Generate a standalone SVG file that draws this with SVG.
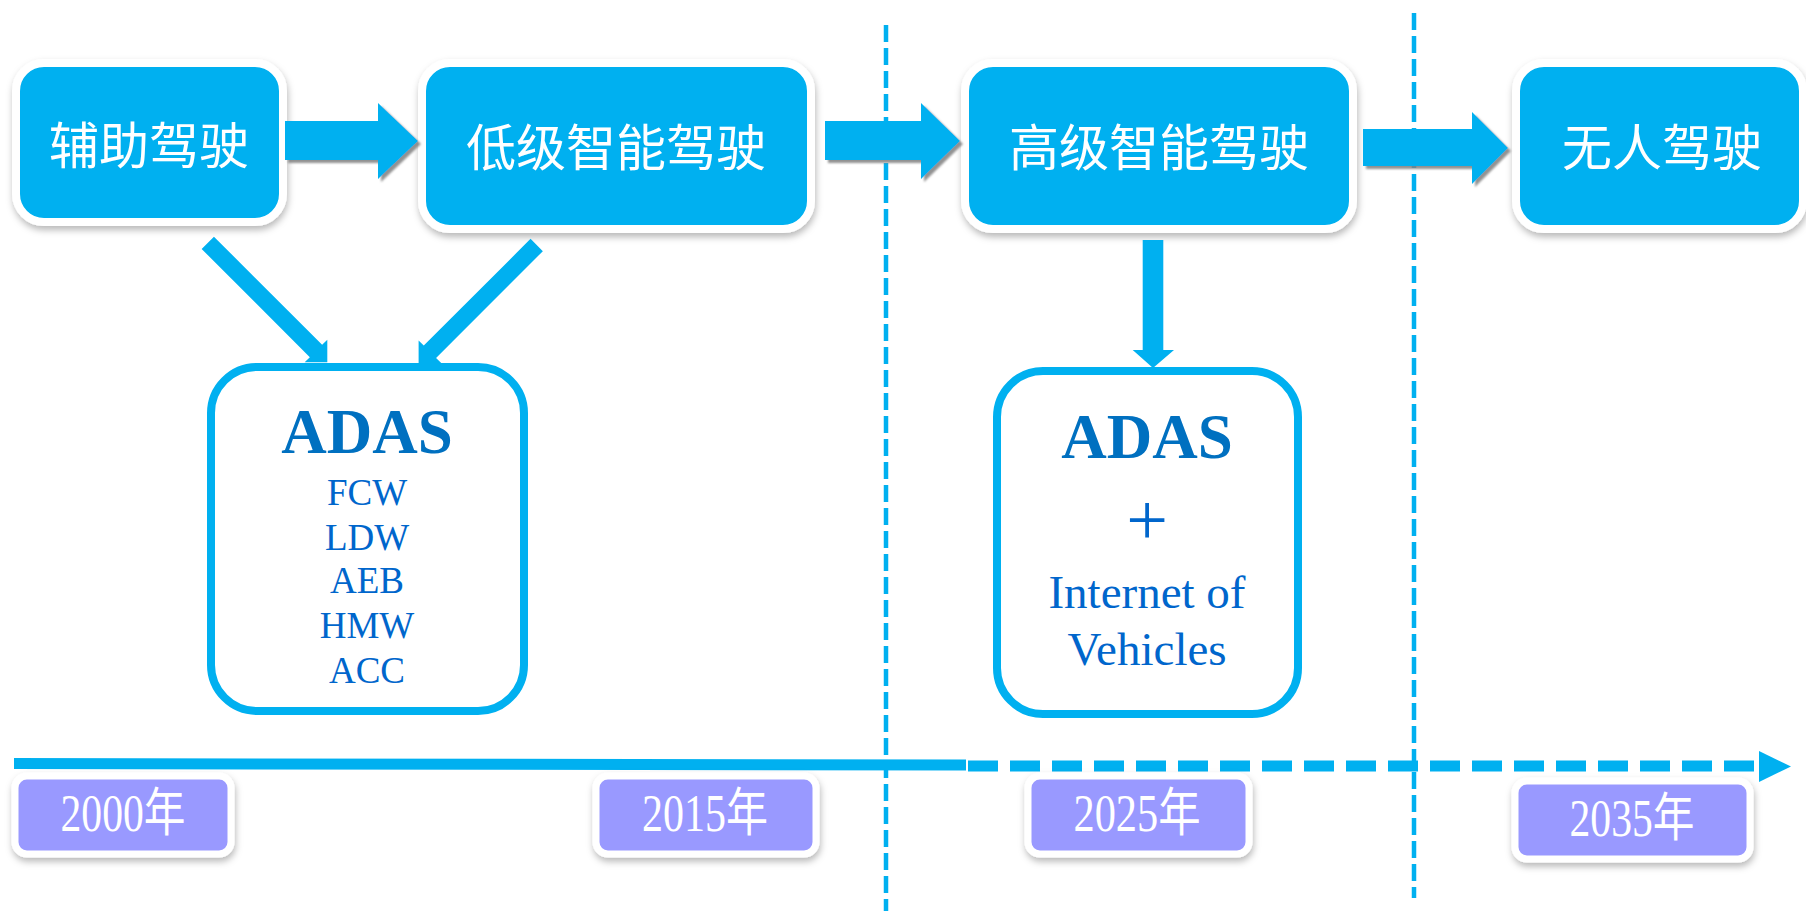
<svg xmlns="http://www.w3.org/2000/svg" width="1806" height="911" viewBox="0 0 1806 911">
  <defs>
    <filter id="boxShadow" x="-10%" y="-10%" width="120%" height="130%">
      <feDropShadow dx="1" dy="4" stdDeviation="3.5" flood-color="#000" flood-opacity="0.28"/>
    </filter>
    <filter id="arrowShadow" x="-10%" y="-10%" width="125%" height="130%">
      <feDropShadow dx="3" dy="3" stdDeviation="0.8" flood-color="#7f7f7f" flood-opacity="0.85"/>
    </filter>
    <style>
      .stage { fill: #00B0F0; stroke: #FFFFFF; stroke-width: 8; filter: url(#boxShadow); }
      .stage-label { fill: #FFFFFF; font-family: "Noto Sans CJK SC", sans-serif; font-size: 50px; text-anchor: middle; }
      .detail { fill: #FFFFFF; stroke: #00B0F0; stroke-width: 8; }
      .adas { fill: #0070C0; font-family: "Liberation Serif", "Times New Roman", serif; font-weight: bold; font-size: 63px; text-anchor: middle; }
      .item { fill: #0066CC; font-family: "Liberation Serif", "Times New Roman", serif; font-size: 37px; text-anchor: middle; }
      .item-lg { fill: #0066CC; font-family: "Liberation Serif", "Times New Roman", serif; font-size: 47px; text-anchor: middle; }
      .plus { fill: #0066CC; font-family: "Liberation Serif", "Times New Roman", serif; font-size: 74px; text-anchor: middle; }
      .year { fill: #9999FF; stroke: #FFFFFF; stroke-width: 7; filter: url(#boxShadow); }
      .year-label { fill: #FFFFFF; font-family: "Liberation Serif", "Noto Sans CJK SC", serif; font-size: 52px; text-anchor: middle; }
      .flow { fill: #00B0F0; }
      .flow-h { fill: #00B0F0; filter: url(#arrowShadow); }
      .divider { fill: none; stroke: #00B0F0; stroke-width: 4.5; stroke-dasharray: 17 6; }
      .axis { fill: none; stroke: #00B0F0; stroke-width: 11; }
    </style>
  </defs>

  <rect width="1806" height="911" fill="#FFFFFF"/>

  <!-- period dividers -->
  <g id="dividers">
    <line class="divider" x1="886" y1="25" x2="886" y2="911"/>
    <line class="divider" x1="1414" y1="13" x2="1414" y2="898"/>
  </g>

  <!-- time axis -->
  <g id="axis">
    <line class="axis" x1="14" y1="763.5" x2="966" y2="765"/>
    <line class="axis" x1="968" y1="766" x2="1759" y2="766" stroke-dasharray="30 12"/>
    <polygon class="flow" points="1759,751 1791,766.5 1759,782"/>
  </g>

  <!-- stages -->
  <g id="stage-assist">
    <rect class="stage" x="16" y="63" width="267" height="159" rx="28"/>
    <text class="stage-label" x="149" y="164">辅助驾驶</text>
  </g>
  <g id="stage-low">
    <rect class="stage" x="422" y="63" width="389" height="166" rx="28"/>
    <text class="stage-label" x="616" y="166">低级智能驾驶</text>
  </g>
  <g id="stage-high">
    <rect class="stage" x="965" y="63" width="388" height="166" rx="28"/>
    <text class="stage-label" x="1159" y="166">高级智能驾驶</text>
  </g>
  <g id="stage-auto">
    <rect class="stage" x="1516" y="63" width="287" height="166" rx="28"/>
    <text class="stage-label" x="1662" y="166">无人驾驶</text>
  </g>

  <!-- detail boxes -->
  <g id="detail-adas">
    <rect class="detail" x="211" y="367" width="313" height="344" rx="46"/>
    <text class="adas" x="367" y="453">ADAS</text>
    <text class="item" x="367" y="505">FCW</text>
    <text class="item" x="367" y="550">LDW</text>
    <text class="item" x="367" y="593">AEB</text>
    <text class="item" x="367" y="638">HMW</text>
    <text class="item" x="367" y="683">ACC</text>
  </g>
  <g id="detail-adas-iov">
    <rect class="detail" x="997" y="371" width="301" height="343" rx="46"/>
    <text class="adas" x="1147" y="458">ADAS</text>
    <text class="plus" x="1147" y="545">+</text>
    <text class="item-lg" x="1147" y="608">Internet of</text>
    <text class="item-lg" x="1147" y="665">Vehicles</text>
  </g>

  <!-- years -->
  <g id="year-2000">
    <rect class="year" x="15" y="776" width="216" height="78" rx="12"/>
    <text class="year-label" x="123" y="831" textLength="125" lengthAdjust="spacingAndGlyphs">2000年</text>
  </g>
  <g id="year-2015">
    <rect class="year" x="596" y="776" width="220" height="78" rx="12"/>
    <text class="year-label" x="705" y="831" textLength="126" lengthAdjust="spacingAndGlyphs">2015年</text>
  </g>
  <g id="year-2025">
    <rect class="year" x="1028" y="776" width="221" height="78" rx="12"/>
    <text class="year-label" x="1137" y="831" textLength="127" lengthAdjust="spacingAndGlyphs">2025年</text>
  </g>
  <g id="year-2035">
    <rect class="year" x="1515" y="781" width="235" height="78" rx="12"/>
    <text class="year-label" x="1632" y="836" textLength="125" lengthAdjust="spacingAndGlyphs">2035年</text>
  </g>

  <!-- connectors -->
  <g id="connectors">
    <polygon class="flow-h" points="285,121 378,121 378,103 418,141 378,179 378,160 285,160"/>
    <polygon class="flow-h" points="825,121 921,121 921,103 960,141 921,179 921,160 825,160"/>
    <polygon class="flow-h" points="1363,129 1472,129 1472,112 1508,148 1472,184 1472,166 1363,166"/>
    <!-- diagonal arrows drawn along +x, then rotated into place -->
    <polygon class="flow" transform="translate(207.8,242.8) rotate(45)" points="0,-8.7 153,-8.7 153,-16 169,0 153,16 153,8.7 0,8.7"/>
    <polygon class="flow" transform="translate(536.7,245) rotate(135)" points="0,-8.7 151,-8.7 151,-16 167,0 151,16 151,8.7 0,8.7"/>
    <polygon class="flow" points="1142.7,240 1163.3,240 1163.3,350 1174,350 1153,368 1132.7,350 1142.7,350"/>
  </g>
</svg>
